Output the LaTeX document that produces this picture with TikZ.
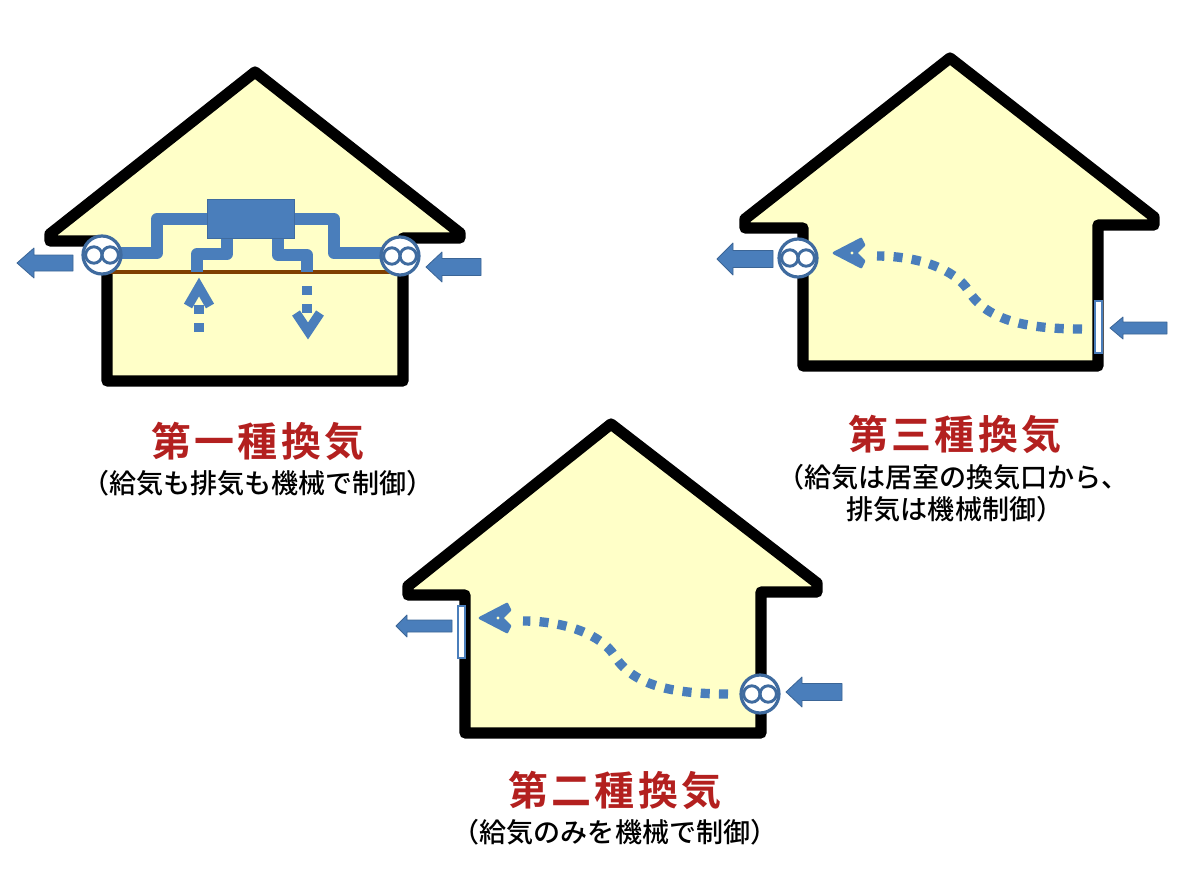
\documentclass[tikz,border=0pt]{standalone}
\usepackage{fontspec}
\newfontfamily\jpfont{Noto Sans CJK JP Medium}
\newfontfamily\jptitle[LetterSpace=8]{Noto Sans CJK JP Bold}
\definecolor{airblue}{HTML}{4A7EBB}
\definecolor{ductblue}{HTML}{4A7EBB}
\definecolor{wallfill}{HTML}{FFFFC8}
\definecolor{titlered}{HTML}{B3201F}
\definecolor{ceilingbrown}{HTML}{7F3F00}
\tikzset{
  wall/.style={draw=black,fill=wallfill,line width=8.4pt,line join=round},
  duct/.style={draw=ductblue,line width=8.8pt,line join=round},
  flowdots/.style={draw=airblue,line width=7pt,dash pattern=on 6.8pt off 6.9pt},
  chevron/.style={draw=airblue,line width=7pt,line join=miter},
  blockarrow/.style={fill=airblue,draw=airblue!80!black,line width=0.6pt,line join=round},
  titletext/.style={text=titlered,font=\jptitle\fontsize{30pt}{34pt}\selectfont,anchor=center},
  subtext/.style={text=black,font=\jpfont\fontsize{20.3pt}{24pt}\selectfont,anchor=center,inner sep=0pt},
  ventfan/.pic={
    \fill[white] (0,0) circle (19);
    \draw[airblue!85!black,line width=2.2pt] (8.2,0) circle (8.2);
    \draw[airblue!85!black,line width=2.2pt] (-8.2,0) circle (8.2);
    \draw[airblue!85!black,line width=2.4pt] (0,0) circle (19);
  },
  ventslot/.pic={
    \draw[airblue,fill=white,line width=1.8pt] (-3.5,-26) rectangle (3.5,26);
  },
  curvedflow/.pic={
    % dotted S-shaped air path with its arrowhead, running right to left
    \draw[flowdots] (0,0) .. controls (-62,0) and (-97,-11) .. (-114,-39)
                          .. controls (-127,-59) and (-162,-73) .. (-205,-73);
    \fill[airblue,draw=airblue,line width=2pt,line join=round]
      (-248,-76) -- (-221,-90) -- (-218,-84) -- (-226,-76)
      -- (-218,-68) -- (-221,-62) -- cycle;
    \fill[wallfill] (-230,-76) circle (1.6);
  }
}
% #1 tip x, #2 centre y, #3 head base x, #4 tail x, #5 head half height, #6 shaft half height
\newcommand{\blockarr}[6]{%
  \path[blockarrow] (#1,#2) -- (#3,#2-#5) -- (#3,#2-#6) -- (#4,#2-#6)
    -- (#4,#2+#6) -- (#3,#2+#6) -- (#3,#2+#5) -- cycle;
}
\begin{document}
\begin{tikzpicture}[x=0.75pt,y=-0.75pt]
\useasboundingbox (0,0) rectangle (1200,878);

% House with balanced ventilation
\path[wall] (255,72) -- (460,233) -- (460,238) -- (403,238) -- (403,381)
  -- (107,381) -- (107,241) -- (50,241) -- (50,234) -- cycle;
\draw[ceilingbrown,line width=2.6pt] (110,272) -- (400,272);
\draw[duct] (115,253) -- (157,253) -- (157,219) -- (210,219);
\draw[duct] (292,219) -- (334,219) -- (334,253) -- (390,253);
\draw[duct] (227,236) -- (227,254) -- (197,254) -- (197,272);
\draw[duct] (278,236) -- (278,255) -- (307,255) -- (307,272);
\node[draw=airblue!85!black,fill=ductblue,line width=1pt,minimum width=65pt,minimum height=29.5pt,inner sep=0pt] (unit) at (251,219) {};
\pic at (102,255) {ventfan};
\pic at (400,256) {ventfan};
\blockarr{17}{263}{34}{73}{15}{8}
\blockarr{426}{267}{442}{481}{15}{8.5}
\draw[flowdots] (199,332) -- (199,303);
\draw[chevron] (188,306) -- (199,287) -- (210,306);
\draw[flowdots] (307,286) -- (307,313);
\draw[chevron] (296,313) -- (308,331) -- (320,313);
\node[titletext] (titleone) at (258,441) {第一種換気};
\node[subtext] (subone) at (258,483) {（給気も排気も機械で制御）};

% House with mechanical exhaust only
\path[wall] (950,58) -- (1154,217) -- (1154,225) -- (1098,225) -- (1098,366)
  -- (803,366) -- (803,228) -- (745,228) -- (745,219) -- cycle;
\pic at (798,258) {ventfan};
\pic at (1098.5,327) {ventslot};
\blockarr{717}{259}{733}{773}{16}{8.5}
\blockarr{1110}{328}{1123}{1167}{11}{6}
\pic at (1082,329) {curvedflow};
\node[titletext] (titlethree) at (955,434) {第三種換気};
\node[subtext] (subthreea) at (953,477) {（給気は居室の換気口から、};
\node[subtext] (subthreeb) at (955,509) {排気は機械制御）};

% House with mechanical supply only
\path[wall] (611,424) -- (817,583) -- (817,592) -- (761,592) -- (761,733)
  -- (465,733) -- (465,595) -- (408,595) -- (408,586) -- cycle;
\pic at (760,694) {ventfan};
\pic at (461.5,632) {ventslot};
\blockarr{396}{626}{407}{452}{11}{6}
\blockarr{786}{692}{802}{842}{15}{8.5}
\pic at (728,694) {curvedflow};
\node[titletext] (titletwo) at (615,790) {第二種換気};
\node[subtext] (subtwo) at (615,832) {（給気のみを機械で制御）};
\end{tikzpicture}
\end{document}
